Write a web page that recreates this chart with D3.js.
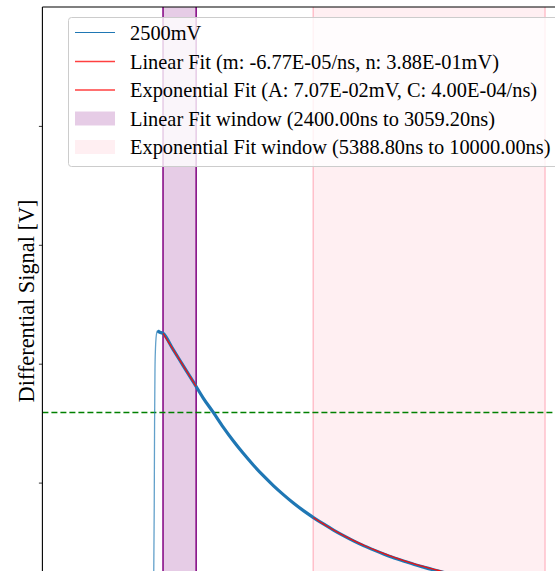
<!DOCTYPE html>
<html>
<head>
<meta charset="utf-8">
<script src="https://cdn.jsdelivr.net/npm/d3@7"></script>
<style>
  html, body { margin: 0; padding: 0; background: #fff; }
  svg { display: block; }
  text { font-family: "Liberation Serif", "DejaVu Serif", serif; fill: #000; }
</style>
</head>
<body>
<svg id="chart" width="555" height="571"></svg>
<script>
// Measured trace (ns, V)
const traceTime = [0, 1000, 2000, 2150, 2200, 2215, 2225, 2232, 2240, 2250, 2262, 2278, 2294, 2320, 2400,
  2600, 2800, 3000, 3200, 3400, 3600, 3800, 4000, 4200, 4400, 4600, 4800, 5000, 5200, 5400,
  5600, 5800, 6000, 6200, 6400, 6600, 6800, 7000, 7200, 7400, 7600, 7800, 8000, 8500, 9000, 9500, 10000];
const traceVolt = [0.0, 0.0, 0.0, 0.0, 0.002, 0.02, 0.08, 0.15, 0.195, 0.213, 0.222, 0.2265, 0.2277, 0.2268, 0.2255,
  0.2120, 0.1984, 0.1849, 0.1711, 0.1590, 0.1465, 0.1350, 0.1244, 0.1146, 0.1056, 0.0973, 0.0897, 0.0826, 0.0762, 0.0704,
  0.0650, 0.0599, 0.0552, 0.0508, 0.0468, 0.0432, 0.0398, 0.0366, 0.0338, 0.0311, 0.0287, 0.0264, 0.0243, 0.0199, 0.0163, 0.0134, 0.0110];
const peakTime = 2294;

// Fit results
const linearFit = { m: -6.77e-05, n: 3.88e-01 };
const expFit = { A: 7.07e-02, C: 4.00e-04 };
const linearWindow = [2400.00, 3059.20];
const expWindow = [5388.80, 10000.00];
const thresholdVolt = 0.159;

const yTicks = [0.1, 0.2, 0.3, 0.4];

const legendLabels = [
  "2500mV",
  "Linear Fit (m: -6.77E-05/ns, n: 3.88E-01mV)",
  "Exponential Fit (A: 7.07E-02mV, C: 4.00E-04/ns)",
  "Linear Fit window (2400.00ns to 3059.20ns)",
  "Exponential Fit window (5388.80ns to 10000.00ns)"
];
const yLabel = "Differential Signal [V]";

const svg = d3.select("#chart");
const W = 555, H = 571;

const x = d3.scaleLinear().domain([0, 10500]).range([42.4, 42.4 + 10500 * 0.05026]);
const y = d3.scaleLinear().domain([0, 0.5]).range([601.5, 7]);

const plotLeft = x(0), plotTop = y(0.5);

svg.append("defs").append("clipPath").attr("id", "plotclip")
  .append("rect").attr("x", plotLeft).attr("y", plotTop).attr("width", W - plotLeft).attr("height", H - plotTop);

const plot = svg.append("g").attr("clip-path", "url(#plotclip)");

// Fit windows
plot.append("rect")
  .attr("x", x(linearWindow[0])).attr("y", plotTop)
  .attr("width", x(linearWindow[1]) - x(linearWindow[0])).attr("height", H - plotTop)
  .attr("fill", "purple").attr("fill-opacity", 0.2);
linearWindow.forEach(t => plot.append("line")
  .attr("x1", x(t)).attr("x2", x(t)).attr("y1", plotTop).attr("y2", H)
  .attr("stroke", "purple").attr("stroke-width", 1.5));

plot.append("rect")
  .attr("x", x(expWindow[0])).attr("y", plotTop)
  .attr("width", x(expWindow[1]) - x(expWindow[0])).attr("height", H - plotTop)
  .attr("fill", "pink").attr("fill-opacity", 0.25);
expWindow.forEach(t => plot.append("line")
  .attr("x1", x(t)).attr("x2", x(t)).attr("y1", plotTop).attr("y2", H)
  .attr("stroke", "pink").attr("stroke-width", 1.5));

// Threshold
plot.append("line")
  .attr("x1", plotLeft).attr("x2", W).attr("y1", y(thresholdVolt)).attr("y2", y(thresholdVolt))
  .attr("stroke", "green").attr("stroke-width", 1.5).attr("stroke-dasharray", "6,3");

// Trace
const trace = traceTime.map((t, i) => [t, traceVolt[i]]);
const line = d3.line().x(d => x(d[0])).y(d => y(d[1])).curve(d3.curveMonotoneX);
plot.append("path").datum(trace.filter(d => d[0] <= peakTime + 30))
  .attr("d", line).attr("fill", "none").attr("stroke", "#1f77b4")
  .attr("stroke-opacity", 0.7).attr("stroke-width", 1.3);
plot.append("path").datum(trace.filter(d => d[0] >= peakTime))
  .attr("d", line).attr("fill", "none").attr("stroke", "#1f77b4").attr("stroke-width", 3.2);

// Fit curves
const linPts = d3.range(linearWindow[0], linearWindow[1] + 1e-6, (linearWindow[1] - linearWindow[0]) / 40)
  .map(t => [t, linearFit.m * t + linearFit.n]);
const expPts = d3.range(expWindow[0], expWindow[1] + 1e-6, (expWindow[1] - expWindow[0]) / 200)
  .map(t => [t, expFit.A * Math.exp(-expFit.C * (t - expWindow[0]))]);
const fitLine = d3.line().x(d => x(d[0])).y(d => y(d[1]));
[linPts, expPts].forEach(pts => plot.append("path").datum(pts).attr("d", fitLine)
  .attr("fill", "none").attr("stroke", "#f01010").attr("stroke-width", 1.3));

// Axes
svg.append("g").attr("transform", `translate(${plotLeft},0)`)
  .call(d3.axisLeft(y).tickValues(yTicks).tickFormat("").tickSize(3.5).tickSizeOuter(0))
  .call(g => g.select(".domain").remove())
  .call(g => g.selectAll("line").attr("stroke", "#000").attr("stroke-width", 0.8));
svg.append("line").attr("x1", plotLeft).attr("x2", plotLeft).attr("y1", plotTop).attr("y2", H)
  .attr("stroke", "#000").attr("stroke-width", 1.1);
svg.append("line").attr("x1", plotLeft).attr("x2", W).attr("y1", plotTop).attr("y2", plotTop)
  .attr("stroke", "#000").attr("stroke-width", 1.1);

// Y label
const yl = svg.append("text").attr("transform", "translate(26,301) rotate(-90)")
  .attr("text-anchor", "middle").attr("dominant-baseline", "central")
  .style("font-size", "18px").text(yLabel);
{
  const w = yl.node().getComputedTextLength();
  yl.style("font-size", (18 * 203 / w) + "px");
}

// Legend
const lg = svg.append("g");
lg.append("rect").attr("x", 68.5).attr("y", 17.5).attr("width", 520).attr("height", 149)
  .attr("rx", 3).attr("fill", "#fff").attr("fill-opacity", 0.8)
  .attr("stroke", "#ccc").attr("stroke-width", 1);
const rowY = [32.5, 61.5, 90, 118.5, 147];
const items = lg.selectAll("g.item").data(legendLabels).join("g").attr("class", "item");
items.append("text").attr("x", 130).attr("y", (d, i) => rowY[i])
  .attr("dominant-baseline", "central").style("font-size", "18px").text(d => d);
{
  const w = d3.max(items.selectAll("text").nodes(), n => n.getComputedTextLength());
  items.selectAll("text").style("font-size", (18 * 421 / w) + "px");
}
const handle = [
  { type: "line", color: "#1f77b4", width: 1.2, op: 1 },
  { type: "line", color: "red", width: 1.5, op: 0.75 },
  { type: "line", color: "red", width: 1.5, op: 0.75 },
  { type: "patch", color: "purple", op: 0.2 },
  { type: "patch", color: "pink", op: 0.25 }
];
handle.forEach((h, i) => {
  if (h.type === "line") {
    lg.append("line").attr("x1", 75).attr("x2", 115).attr("y1", rowY[i]).attr("y2", rowY[i])
      .attr("stroke", h.color).attr("stroke-width", h.width).attr("stroke-opacity", h.op);
  } else {
    lg.append("rect").attr("x", 75).attr("y", rowY[i] - 7).attr("width", 40).attr("height", 14)
      .attr("fill", h.color).attr("fill-opacity", h.op);
  }
});
</script>
</body>
</html>
